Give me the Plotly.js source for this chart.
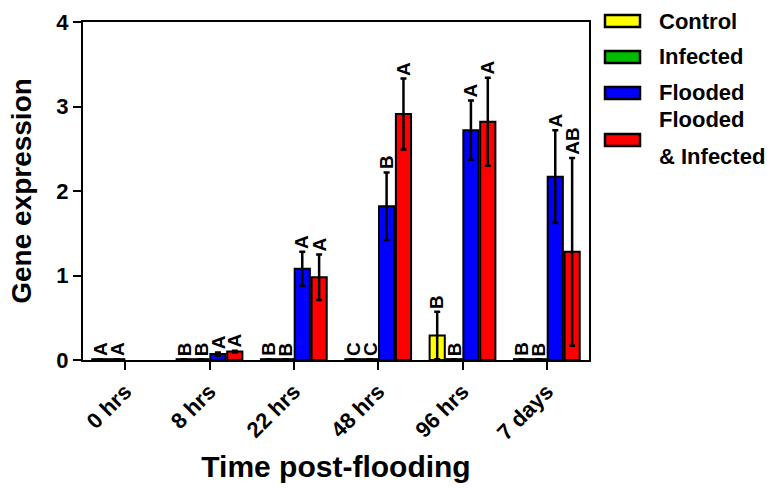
<!DOCTYPE html>
<html>
<head>
<meta charset="utf-8">
<script src="https://cdn.plot.ly/plotly-3.0.1.min.js"></script>
<style>html,body{margin:0;padding:0;background:#fff;}#chart{width:774px;height:488px;}</style>
</head>
<body>
<div id="chart"></div>
<script>
const categories = ['0 hrs', '8 hrs', '22 hrs', '48 hrs', '96 hrs', '7 days'];
const seriesNames = ['Control', 'Infected', 'Flooded', 'Flooded & Infected'];
const legendLines = [['Control'], ['Infected'], ['Flooded'], ['Flooded', '& Infected']];

const controlVals = [0.01, 0.01, 0.01, 0.01, 0.29, 0.01];
const infectedVals = [0.01, 0.01, 0.01, 0.01, 0.01, 0.01];
const floodedVals = [null, 0.07, 1.08, 1.82, 2.72, 2.17];
const floodedInfVals = [null, 0.10, 0.98, 2.91, 2.82, 1.28];

const controlErr = [0, 0, 0, 0, 0.28, 0];
const infectedErr = [0, 0, 0, 0, 0, 0];
const floodedErr = [0, 0.02, 0.20, 0.40, 0.35, 0.55];
const floodedInfErr = [0, 0.01, 0.27, 0.42, 0.52, 1.11];

const controlLabels = ['A', 'B', 'B', 'C', 'B', 'B'];
const infectedLabels = ['A', 'B', 'B', 'C', 'B', 'B'];
const floodedLabels = ['', 'A', 'A', 'B', 'A', 'A'];
const floodedInfLabels = ['', 'A', 'A', 'A', 'A', 'AB'];

const yTicks = [0, 1, 2, 3, 4];

const colors = ['#FFFF00', '#00BB00', '#0000FF', '#FF0000'];
const FONT = 'Arial, "Liberation Sans", sans-serif';

const vals = [controlVals, infectedVals, floodedVals, floodedInfVals];
const errs = [controlErr, infectedErr, floodedErr, floodedInfErr];
const labs = [controlLabels, infectedLabels, floodedLabels, floodedInfLabels];
const offsets = [-0.3, -0.1, 0.1, 0.3];

const traces = vals.map((v, s) => ({
  type: 'bar',
  name: seriesNames[s],
  x: categories,
  y: v,
  marker: {color: colors[s], line: {color: '#000', width: 2}},
  error_y: {type: 'data', array: errs[s], visible: true, color: '#000', thickness: 2.5, width: 3},
  hoverinfo: 'skip',
  showlegend: false
}));

const annotations = [];
labs.forEach((arr, s) => {
  arr.forEach((t, i) => {
    if (!t || vals[s][i] === null) return;
    annotations.push({
      xref: 'x', yref: 'y',
      x: i + offsets[s],
      y: vals[s][i] + errs[s][i],
      text: t,
      showarrow: false,
      textangle: -90,
      xanchor: 'center', yanchor: 'bottom',
      yshift: 1,
      font: {family: FONT, size: 19, color: '#000', weight: 'bold'}
    });
  });
});

// Manual legend (paper coordinates derived from the plot box)
const L = 83, R = 589, T = 22, B = 360;
const px2x = p => (p - L) / (R - L);
const py2y = p => (B - p) / (B - T);
const swatchCenters = [21, 57, 93, 140];
const textCenters = [[21], [57], [93], [119, 156]];
const shapes = [];
colors.forEach((c, s) => {
  shapes.push({
    type: 'rect', xref: 'paper', yref: 'paper',
    x0: px2x(605), x1: px2x(640),
    y0: py2y(swatchCenters[s] + 6), y1: py2y(swatchCenters[s] - 6),
    fillcolor: c, line: {color: '#000', width: 2.5}
  });
  legendLines[s].forEach((txt, k) => {
    annotations.push({
      xref: 'paper', yref: 'paper',
      x: px2x(657), y: py2y(textCenters[s][k]),
      xanchor: 'left', yanchor: 'middle',
      text: txt, showarrow: false,
      font: {family: FONT, size: 22, color: '#000', weight: 'bold'}
    });
  });
});

const layout = {
  width: 774, height: 488,
  margin: {l: L, r: 774 - R, t: T, b: 488 - B, autoexpand: false},
  paper_bgcolor: '#fff', plot_bgcolor: '#fff',
  font: {family: FONT, color: '#000', weight: 'bold'},
  barmode: 'group',
  bargap: 0.2,
  bargroupgap: 0.1,
  xaxis: {
    type: 'category',
    range: [-0.5, 5.5],
    showline: true, linecolor: '#000', linewidth: 2, mirror: true,
    ticks: 'outside', ticklen: 8, tickwidth: 2, tickcolor: '#000',
    tickangle: -45,
    tickfont: {family: FONT, size: 22, color: '#000', weight: 'bold'},
    showgrid: false, zeroline: false,
    title: {text: 'Time post-flooding', font: {family: FONT, size: 30, color: '#000', weight: 'bold'}, standoff: 12}
  },
  yaxis: {
    range: [0, 4],
    tickvals: yTicks,
    showline: true, linecolor: '#000', linewidth: 2, mirror: true,
    ticks: 'outside', ticklen: 8, tickwidth: 2, tickcolor: '#000',
    tickfont: {family: FONT, size: 22, color: '#000', weight: 'bold'},
    showgrid: false, zeroline: false,
    title: {text: 'Gene expression', font: {family: FONT, size: 28, color: '#000', weight: 'bold'}, standoff: 17}
  },
  showlegend: false,
  shapes: shapes,
  annotations: annotations
};

Plotly.newPlot('chart', traces, layout, {displayModeBar: false, staticPlot: true});
</script>
</body>
</html>
